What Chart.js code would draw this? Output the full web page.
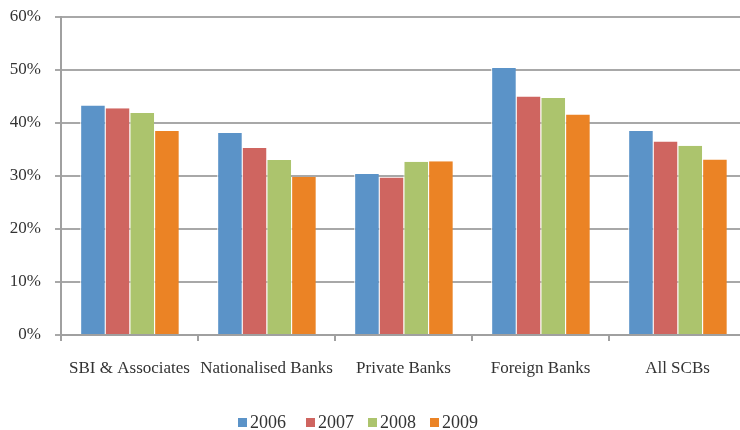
<!DOCTYPE html>
<html><head><meta charset="utf-8">
<script src="https://cdn.jsdelivr.net/npm/chart.js@4/dist/chart.umd.min.js"></script>
<style>
html,body{margin:0;padding:0;background:#fff;overflow:hidden;width:740px;height:430px;position:relative}
#wrap{position:absolute;left:0;top:0;width:748px;height:430px}
#legend{position:absolute;left:238px;top:411px;display:flex;gap:14px;font-family:'Liberation Serif','Times New Roman',serif;font-size:18px;color:#333;line-height:22px}
#legend .it{display:flex;align-items:center}
#legend .it:nth-child(2){margin-left:6px}
#legend .bx{width:9px;height:9px;margin-right:3px;margin-top:1px}
</style>
</head><body><div id="wrap"><canvas id="c" width="748" height="430"></canvas></div><div id="legend"></div>
<script>
const categories = ["SBI & Associates","Nationalised Banks","Private Banks","Foreign Banks","All SCBs"];
const years = ["2006","2007","2008","2009"];
const v2006 = [43.3, 38.1, 30.4, 50.4, 38.5];
const v2007 = [42.8, 35.3, 29.7, 45.0, 36.5];
const v2008 = [41.9, 33.0, 32.7, 44.7, 35.7];
const v2009 = [38.5, 29.8, 32.8, 41.6, 33.1];
const colors = ["#5B93C8","#CF6560","#ACC46D","#EB8325"];
const series = [v2006, v2007, v2008, v2009];
const font = "'Liberation Serif', 'Times New Roman', serif";
const chart = new Chart(document.getElementById('c'), {
  type: 'bar',
  data: {
    labels: categories,
    datasets: series.map((s, i) => ({
      label: years[i], data: s, backgroundColor: colors[i],
      borderColor: '#ffffff', borderWidth: {left: 1, right: 0, top: 0, bottom: 0},
      barPercentage: 1.0, categoryPercentage: 0.72
    }))
  },
  options: {
    responsive: false, animation: false,
    layout: {padding: {top: 17, right: 2, bottom: 0, left: 0}},
    plugins: {
      tooltip: {enabled: false},
      legend: {display: false}
    },
    scales: {
      x: {
        grid: {offset: true, drawOnChartArea: false, drawTicks: true, tickLength: 6, color: '#A0A0A0', lineWidth: 2},
        border: {color: '#A0A0A0', width: 2},
        ticks: {font: {family: font, size: 17}, color: '#333', padding: 17, maxRotation: 0, autoSkip: false},
        afterFit: s => { s.height = 95; s.paddingLeft = 0; s.paddingRight = 0; }
      },
      y: {
        min: 0, max: 60,
        grid: {color: '#A8A8A8', lineWidth: 2, tickLength: 6},
        border: {color: '#A0A0A0', width: 2},
        ticks: {stepSize: 10, font: {family: font, size: 17}, color: '#333', padding: 14, callback: v => v + '%'},
        afterFit: s => { s.width = 61; s.paddingTop = 0; s.paddingBottom = 0; }
      }
    }
  }
});
const lg = document.getElementById('legend');
chart.data.datasets.forEach(d => {
  const it = document.createElement('div'); it.className = 'it';
  const bx = document.createElement('span'); bx.className = 'bx'; bx.style.background = d.backgroundColor;
  const tx = document.createElement('span'); tx.textContent = d.label;
  it.appendChild(bx); it.appendChild(tx); lg.appendChild(it);
});
</script></body></html>
